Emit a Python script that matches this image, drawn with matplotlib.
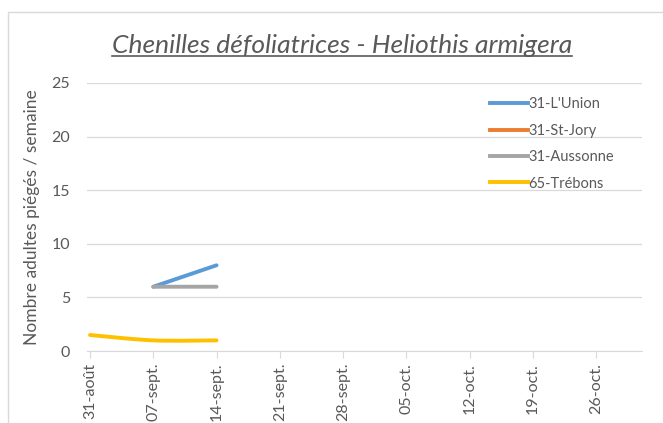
import numpy as np
import matplotlib.pyplot as plt
from matplotlib.path import Path
from matplotlib.patches import PathPatch, Rectangle
from matplotlib.lines import Line2D

plt.rcParams['font.family'] = ['Lato', 'DejaVu Sans']

dates = ['31-août', '07-sept.', '14-sept.', '21-sept.', '28-sept.',
         '05-oct.', '12-oct.', '19-oct.', '26-oct.']
lunion = [np.nan, 6, 8, np.nan, np.nan, np.nan, np.nan, np.nan, np.nan]
stjory = [np.nan] * 9
aussonne = [np.nan, 6, 6, np.nan, np.nan, np.nan, np.nan, np.nan, np.nan]
trebons = [1.5, 1, 1, np.nan, np.nan, np.nan, np.nan, np.nan, np.nan]

series = [('31-L\'Union', lunion, '#5b9bd5'),
          ('31-St-Jory', stjory, '#ed7d31'),
          ('31-Aussonne', aussonne, '#a5a5a5'),
          ('65-Trébons', trebons, '#ffc000')]


def smooth_path(xs, ys):
    # Excel-like smoothed line (Catmull-Rom -> cubic bezier)
    pts = [(x, y) for x, y in zip(xs, ys) if not np.isnan(y)]
    if len(pts) < 2:
        return None
    p = np.array(pts, dtype=float)
    verts = [p[0]]
    codes = [Path.MOVETO]
    n = len(p)
    for i in range(n - 1):
        p0 = p[i - 1] if i > 0 else p[i]
        p1, p2 = p[i], p[i + 1]
        p3 = p[i + 2] if i + 2 < n else p[i + 1]
        c1 = p1 + (p2 - p0) / 6
        c2 = p2 - (p3 - p1) / 6
        verts += [c1, c2, p2]
        codes += [Path.CURVE4] * 3
    return Path(verts, codes)


fig = plt.figure(figsize=(6.63, 4.23), dpi=100)
fig.patches.append(Rectangle((8 / 663, -0.1), 1.0, 1 - 12 / 423 + 0.1,
                             transform=fig.transFigure, fill=False,
                             edgecolor='#d9d9d9', linewidth=1))
ax = fig.add_axes([0.131, 0.170, 0.837, 0.634])

x = np.arange(len(dates))
for name, vals, col in series:
    path = smooth_path(x, vals)
    if path is not None:
        ax.add_patch(PathPatch(path, facecolor='none', edgecolor=col,
                               linewidth=2.8, capstyle='round', zorder=3))
    ax.plot([], [], color=col, linewidth=2.8, label=name)

ax.set_xlim(-0.05, 8.72)
ax.set_ylim(0, 25)
ax.set_yticks(range(0, 26, 5))
ax.set_xticks(x)
ax.set_xticklabels(dates, rotation=90)
ax.grid(axis='y', color='#d9d9d9', linewidth=0.9)
ax.set_axisbelow(True)
for s in ['top', 'right', 'left']:
    ax.spines[s].set_visible(False)
ax.spines['bottom'].set_color('#d9d9d9')
ax.tick_params(axis='y', length=0, labelsize=11.5, labelcolor='#595959', pad=12)
ax.tick_params(axis='x', length=5, color='#d9d9d9', labelsize=11.5,
               labelcolor='#595959')
ax.set_ylabel('Nombre adultes piégés / semaine', fontsize=12.5,
              color='#595959', labelpad=8)

ax.legend(loc='upper right', bbox_to_anchor=(0.974, 0.995), frameon=False,
          fontsize=10.5, labelcolor='#595959', handlelength=2.6,
          handletextpad=0.05, labelspacing=0.85)

title = fig.text(0.516, 0.893, 'Chenilles défoliatrices - Heliothis armigera',
                 ha='center', va='center', fontsize=19, style='italic',
                 color='#595959')
fig.canvas.draw()
bb = title.get_window_extent().transformed(fig.transFigure.inverted())
fig.lines.append(Line2D([bb.x0, bb.x1], [bb.y0 + 0.002, bb.y0 + 0.002],
                        transform=fig.transFigure, color='#595959',
                        linewidth=1.2))

fig.savefig('out.png', dpi=100)
